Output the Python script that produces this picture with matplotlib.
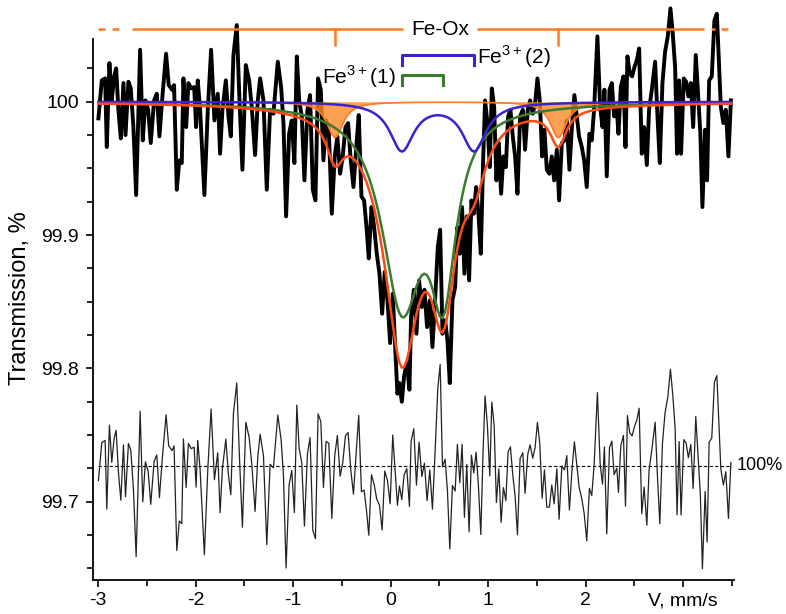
import numpy as np
import matplotlib
matplotlib.use("Agg")
import matplotlib.pyplot as plt
from matplotlib.ticker import FixedLocator, MultipleLocator

plt.rcParams['font.family'] = ['Liberation Sans', 'DejaVu Sans']
plt.rcParams['axes.unicode_minus'] = False
plt.rcParams['mathtext.fontset'] = 'custom'
plt.rcParams['mathtext.rm'] = 'Liberation Sans'

# measured spectrum, velocity (mm/s) and transmission (%)
vel = [-2.997, -2.962, -2.928, -2.911, -2.884, -2.860, -2.836, -2.815, -2.792, -2.767,
       -2.740, -2.719, -2.689, -2.665, -2.638, -2.610, -2.569, -2.542, -2.515, -2.487,
       -2.460, -2.426, -2.398, -2.371, -2.344, -2.303, -2.276, -2.241, -2.221, -2.193,
       -2.167, -2.142, -2.125, -2.097, -2.074, -2.046, -2.015, -1.995,
       -1.978, -1.954, -1.910, -1.875, -1.841, -1.807, -1.773, -1.749, -1.725, -1.690,
       -1.663, -1.639, -1.612, -1.578, -1.550, -1.520, -1.485, -1.451, -1.424, -1.390,
       -1.362, -1.338, -1.304, -1.270, -1.236, -1.202, -1.157, -1.123, -1.099, -1.072,
       -1.041, -1.014, -0.987, -0.962, -0.938, -0.911, -0.884,
       -0.853, -0.826, -0.798, -0.771, -0.744, -0.716, -0.689, -0.662, -0.634, -0.603,
       -0.573, -0.546, -0.518, -0.491, -0.463, -0.436, -0.409, -0.381, -0.354, -0.327,
       -0.299, -0.272, -0.245, -0.224, -0.196, -0.169, -0.142, -0.114, -0.087, -0.060,
       -0.032, -0.005, 0.022, 0.050, 0.070, 0.091, 0.115, 0.138, 0.166, 0.193,
       0.210, 0.238, 0.265, 0.292, 0.320, 0.347, 0.374, 0.402, 0.429, 0.456,
       0.484, 0.508, 0.532, 0.559, 0.583, 0.607, 0.634, 0.662, 0.685, 0.710,
       0.733, 0.757, 0.781, 0.805, 0.829, 0.853, 0.877, 0.901, 0.925, 0.949,
       0.969, 0.993, 1.017, 1.038, 1.062, 1.085, 1.110, 1.133, 1.157, 1.182,
       1.205, 1.229, 1.253,
       1.277, 1.301, 1.328, 1.356, 1.379, 1.407, 1.431, 1.458, 1.482, 1.506,
       1.530, 1.554, 1.578, 1.602, 1.629, 1.653, 1.677, 1.705, 1.728, 1.756,
       1.783, 1.807, 1.834, 1.862, 1.885, 1.910, 1.933, 1.961, 1.985, 2.012,
       2.039, 2.063, 2.087, 2.121, 2.149, 2.173, 2.193, 2.217, 2.245, 2.269,
       2.292, 2.320,
       2.337, 2.361, 2.388, 2.409, 2.429, 2.453, 2.477, 2.501, 2.525, 2.549,
       2.576, 2.600, 2.628, 2.651, 2.679, 2.713, 2.737, 2.761, 2.788, 2.815,
       2.843, 2.870, 2.894, 2.918, 2.938, 2.959, 2.979, 3.007, 3.031, 3.054,
       3.079, 3.103, 3.130, 3.157, 3.177, 3.198, 3.226, 3.246, 3.267, 3.294,
       3.321, 3.346, 3.367, 3.387, 3.413, 3.438, 3.465, 3.490]
trans = [99.9875, 100.016, 100.0175, 99.966, 100.029, 100.001, 100.019, 100.025, 99.994, 99.9725,
         100.014, 99.975, 100.015, 100.010, 99.981, 99.930, 100.039, 99.971, 100.001, 99.994,
         99.969, 100.001, 100.006, 99.974, 100.001, 100.036, 100.0125, 100.009, 100.0125, 99.934,
         99.956, 99.954, 100.0175, 99.981, 100.014, 100.010, 100.011, 99.981,
         100.016, 99.994, 99.930, 99.994, 100.039, 99.986, 100.006, 99.961, 99.994, 100.016,
         99.989, 99.974, 100.035, 100.0575, 100.001, 99.949, 100.0275, 100.016, 99.996, 99.960,
         100.001, 100.0175, 100.001, 99.934, 99.994, 99.991, 100.030, 100.011, 99.984, 99.914,
         99.976, 99.986, 99.954, 100.034, 100.001, 99.989, 99.941,
         99.994, 100.005, 99.934, 99.926, 100.0175, 100.009, 99.956, 99.986, 99.979, 99.916,
         99.959, 99.974, 99.946, 99.959, 99.981, 99.984, 99.956, 99.936, 99.964, 99.990,
         99.929, 99.926, 99.904, 99.8825, 99.921, 99.906, 99.886, 99.871, 99.841, 99.8725,
         99.851, 99.819, 99.856, 99.811, 99.781, 99.789, 99.775, 99.794, 99.804, 99.784,
         99.839, 99.859, 99.826, 99.866, 99.846, 99.859, 99.831, 99.851, 99.816, 99.851,
         99.891, 99.904, 99.826, 99.836, 99.821, 99.789, 99.851, 99.861, 99.906, 99.886,
         99.921, 99.871, 99.914, 99.866, 99.926, 99.916, 99.936, 99.916, 99.886, 99.956,
         100.001, 99.984, 99.951, 100.010, 99.996, 99.941, 99.969, 99.931, 99.959, 99.951,
         99.989, 99.994, 99.974,
         99.959, 99.931, 99.989, 99.994, 99.964, 99.994, 100.001, 99.991, 99.999, 100.0175,
         100.001, 99.959, 99.979, 99.949, 99.946, 99.959, 99.941, 99.964, 99.926, 99.969,
         99.971, 99.986, 99.949, 99.984, 100.005, 99.989, 99.974, 99.966, 99.956, 99.936,
         99.976, 99.971, 99.994, 100.049, 99.996, 99.981, 100.009, 99.944, 100.009, 100.014,
         99.989, 99.994,
         99.976, 100.011, 100.019, 99.966, 100.034, 100.021, 100.019, 100.026, 100.031, 100.040,
         99.961, 99.981, 99.9525, 99.994, 100.009, 100.030, 99.989, 99.954, 100.014, 100.0375,
         100.049, 100.070, 100.051, 100.026, 99.961, 100.016, 99.961, 100.0175, 100.015, 100.004,
         100.014, 99.981, 100.035, 100.001, 99.976, 99.921, 99.979, 99.941, 100.016, 100.019,
         100.061, 100.066, 100.031, 99.996, 99.984, 99.994, 99.959, 100.001]

# fitted subspectra: line position (mm/s), depth (%), FWHM (mm/s)
fe3_1_pos, fe3_1_depth, fe3_1_width = [0.115, 0.54], [0.146, 0.124], [0.50, 0.32]
fe3_2_pos, fe3_2_depth, fe3_2_width = [0.115, 0.856], [0.036, 0.036], [0.30, 0.30]
feox_pos, feox_depth, feox_width = [-0.57, 1.72], [0.027, 0.027], [0.20, 0.20]
resid_level = 99.727

# stick diagram bars (velocity extents) and their heights
feox_bar = [(-3.0, -2.93), (-2.86, -2.79), (-2.65, 0.13), (0.89, 3.21), (3.29, 3.33), (3.39, 3.46)]
feox_bar_y, feox_tick_y = 100.0543, 100.0425
fe1_bar_y, fe1_leg_y = 100.0200, 100.0125
fe2_bar_y, fe2_leg_y = 100.0350, 100.0275

v = np.array(vel)
t = np.array(trans)

def lines(pos, depth, width):
    s = np.zeros_like(v)
    for p, a, w in zip(pos, depth, width):
        s += a / (1 + (2 * (v - p) / w) ** 2)
    return s

d1 = lines(fe3_1_pos, fe3_1_depth, fe3_1_width)
d2 = lines(fe3_2_pos, fe3_2_depth, fe3_2_width)
dox = lines(feox_pos, feox_depth, feox_width)
fit = 100 - d1 - d2 - dox
resid = t - fit + resid_level

fig = plt.figure(figsize=(7.86, 6.14), dpi=100)
ax = fig.add_axes([0.118, 0.0554, 0.8156, 0.9446])

RED = '#ff4a12'
ORANGE = '#ff7a22'
GREEN = '#3a7b2e'
BLUE = '#3a22cf'

ax.plot(v, t, color='black', lw=2.8, zorder=2)
ax.fill_between(v, 100, 100 - dox, color='#ff8a2a', alpha=0.8, lw=0, zorder=3)
ax.plot(v, 100 - dox, color=ORANGE, lw=1.2, zorder=3)
ax.plot(v, 100 - d1, color=GREEN, lw=1.8, zorder=4)
ax.plot(v, 100 - d2, color=BLUE, lw=1.8, zorder=4)
ax.plot(v, fit, color=RED, lw=1.8, zorder=5)

ax.plot(v, resid, color='#222222', lw=0.9, zorder=2)
ax.plot([v[0], v[-1]], [resid_level, resid_level], color='black', lw=0.8,
        ls=(0, (3, 2)), zorder=1)
ax.text(3.55, resid_level, '100%', fontsize=13, va='center', ha='left', clip_on=False)

# stick diagrams
for a, b in feox_bar:
    ax.plot([a, b], [feox_bar_y, feox_bar_y], color=ORANGE, lw=1.8, solid_capstyle='butt')
for p in feox_pos:
    ax.plot([p, p], [feox_bar_y, feox_tick_y], color=ORANGE, lw=1.8)
ax.text(0.51, feox_bar_y, 'Fe-Ox', fontsize=15, ha='center', va='center')

ax.plot([fe3_2_pos[0], fe3_2_pos[0], fe3_2_pos[1], fe3_2_pos[1]],
        [fe2_leg_y, fe2_bar_y, fe2_bar_y, fe2_leg_y], color=BLUE, lw=2.2)
ax.plot([fe3_1_pos[0], fe3_1_pos[0], fe3_1_pos[1], fe3_1_pos[1]],
        [fe1_leg_y, fe1_bar_y, fe1_bar_y, fe1_leg_y], color=GREEN, lw=2.2)
ax.text(0.89, 100.0338, r'Fe$^{\mathrm{3+}}$(2)', fontsize=15, ha='left', va='center')
ax.text(0.05, 100.0185, r'Fe$^{\mathrm{3+}}$(1)', fontsize=15, ha='right', va='center')

ax.set_xlim(-3.055, 3.52)
ax.set_ylim(99.6413, 100.0763)
for s in ['top', 'right']:
    ax.spines[s].set_visible(False)
ax.spines['left'].set_bounds(99.6413, 100.047)
ax.spines['bottom'].set_bounds(-3.055, 3.52)

xt = [-3, -2, -1, 0, 1, 2, 3]
ax.xaxis.set_major_locator(FixedLocator(xt))
ax.set_xticklabels(['-3', '-2', '-1', '0', '1', '2', 'V, mm/s'])
ax.xaxis.set_minor_locator(MultipleLocator(0.5))
yt = [99.7, 99.8, 99.9, 100.0]
ax.yaxis.set_major_locator(FixedLocator(yt))
ax.set_yticklabels(['99.7', '99.8', '99.9', '100'])
ax.yaxis.set_minor_locator(FixedLocator([99.65, 99.675, 99.725, 99.75, 99.775, 99.825,
                                         99.85, 99.875, 99.925, 99.95, 99.975, 100.025]))
ax.tick_params(which='both', direction='out', width=1.2, labelsize=14)
ax.tick_params(which='major', length=5, pad=5)
ax.tick_params(which='minor', length=4)
ax.tick_params(axis='x', pad=4)
for s in ['left', 'bottom']:
    ax.spines[s].set_linewidth(1.3)

ax.set_ylabel('Transmission, %', fontsize=17)
ax.yaxis.set_label_coords(-0.097, 0.486)

fig.savefig('out.png', dpi=100)
